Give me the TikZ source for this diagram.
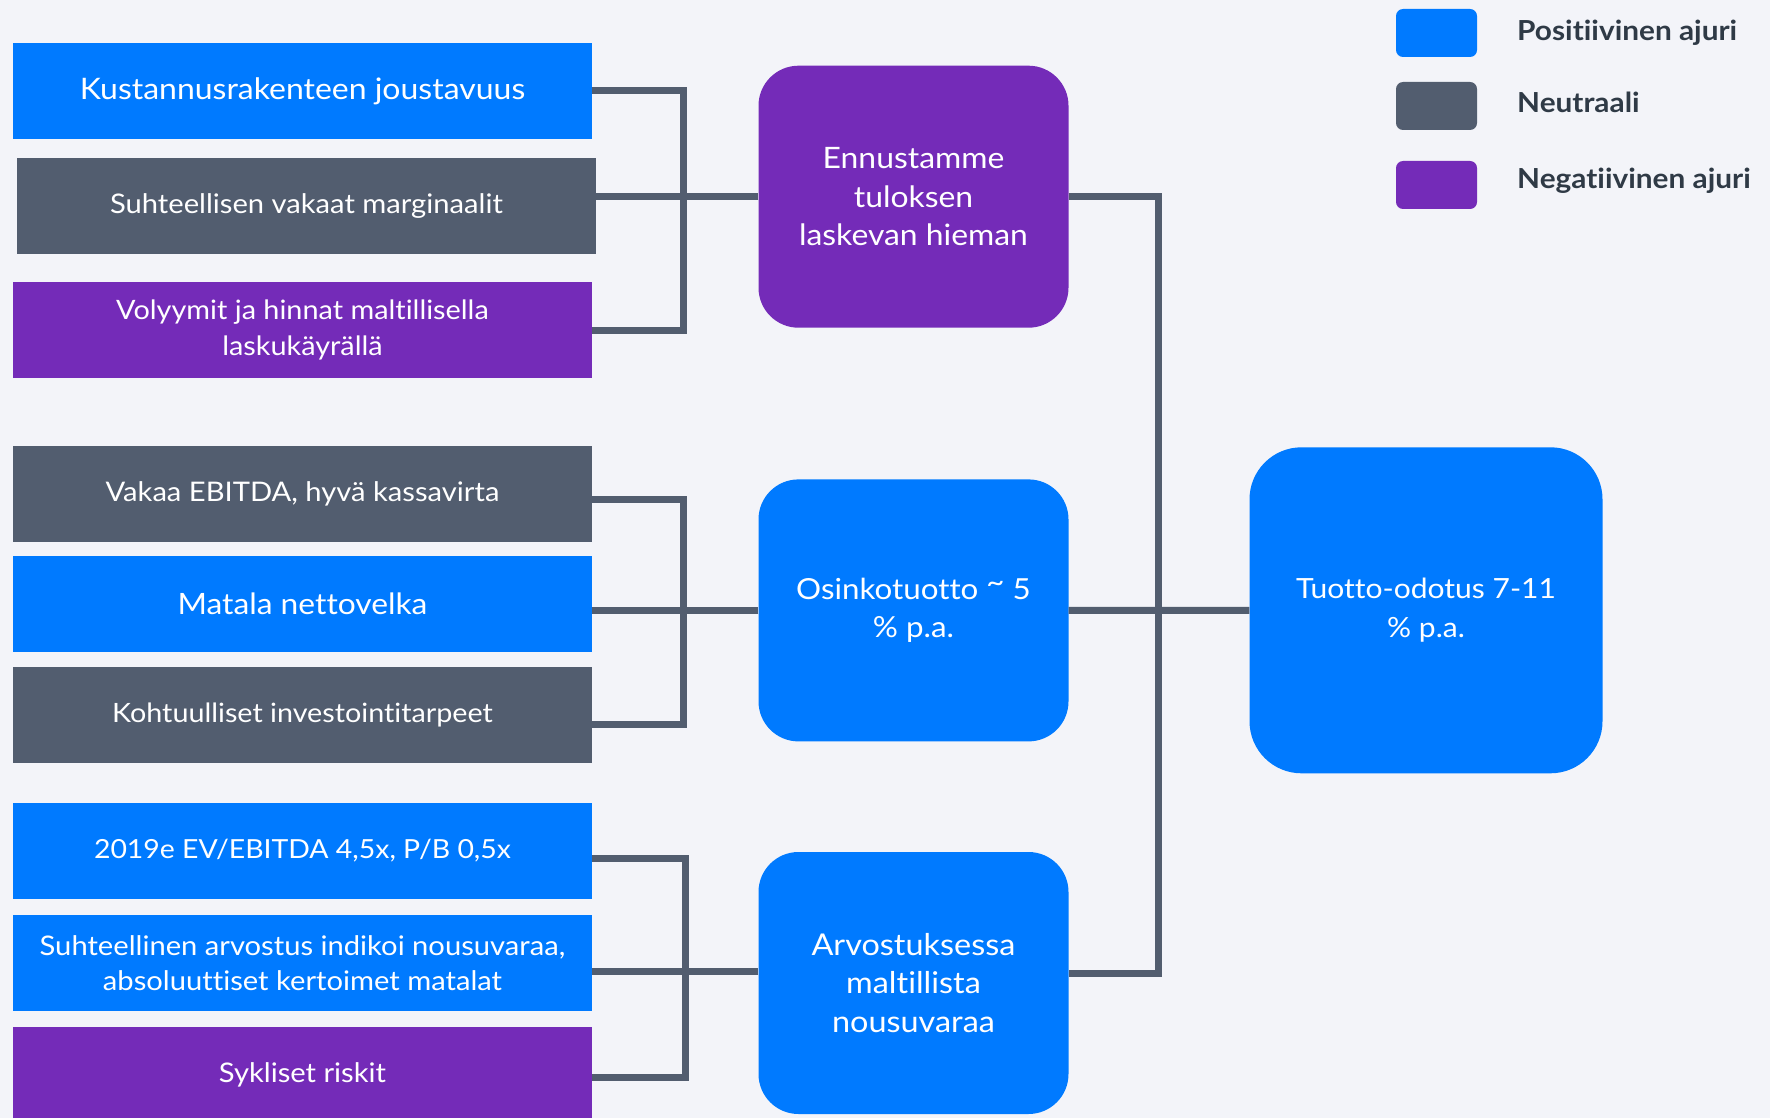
\documentclass[tikz,border=0pt]{standalone}
\usepackage{fontspec}
\setmainfont{Lato}[FakeStretch=1.08, Ligatures=NoCommon, RawFeature={-liga;-clig;-dlig;-rlig}]
\usetikzlibrary{calc}
\definecolor{bg}{HTML}{F3F4F9}
\definecolor{pos}{HTML}{007AFF}
\definecolor{neu}{HTML}{525D6F}
\definecolor{neg}{HTML}{742BB8}
\definecolor{legtext}{HTML}{2F3A46}
\begin{document}
\begin{tikzpicture}[x=1pt,y=-1pt,
  leftbox/.style={rectangle, minimum width=579pt, minimum height=96pt, inner sep=0pt, text=white, align=center, font=\fontsize{27}{35.5}\selectfont},
  midbox/.style={rectangle, rounded corners=40pt, minimum width=310pt, minimum height=262pt, inner sep=0pt, text=white, align=center, font=\fontsize{29.5}{38.5}\selectfont},
  conn/.style={draw=neu, line width=7pt},
  legbox/.style={rectangle, rounded corners=7pt, minimum width=81pt, minimum height=48pt, inner sep=0pt},
  legtxt/.style={anchor=base west, inner sep=0pt, text=legtext, font=\bfseries\fontsize{27.6}{34}\selectfont}]
\fill[bg] (0,0) rectangle (1770,1118);
\path[use as bounding box, clip] (0,0) rectangle (1770,1118);

% left boxes
\node[leftbox, fill=pos, font=\fontsize{29.6}{36}\selectfont] (k1) at (302.5,91) {Kustannusrakenteen joustavuus};
\node[leftbox, fill=neu] (k2) at (306.5,206) {Suhteellisen vakaat marginaalit};
\node[leftbox, fill=neg, font=\fontsize{26.7}{35.5}\selectfont] (k3) at (302.5,330) {Volyymit ja hinnat maltillisella\\laskukäyrällä};

\node[leftbox, fill=neu] (v1) at (302.5,494) {Vakaa EBITDA, hyvä kassavirta};
\node[leftbox, fill=pos, font=\fontsize{29.4}{36}\selectfont] (v2) at (302.5,604) {Matala nettovelka};
\node[leftbox, fill=neu, font=\fontsize{26.6}{35}\selectfont] (v3) at (302.5,715) {Kohtuulliset investointitarpeet};

\node[leftbox, fill=pos, font=\fontsize{26.3}{35}\selectfont] (r1) at (302.5,851) {2019e EV/EBITDA 4,5x, P/B 0,5x};
\node[leftbox, fill=pos] (r2) at (302.5,963) {Suhteellinen arvostus indikoi nousuvaraa,\\absoluuttiset kertoimet matalat};
\node[leftbox, fill=neg] (r3) at (302.5,1075) {Sykliset riskit};

% middle boxes
\node[midbox, fill=neg] (e) at (913.5,196.7) {Ennustamme\\tuloksen\\laskevan hieman};
\node[midbox, fill=pos, font=\fontsize{29}{38.5}\selectfont] (o) at (913.5,610.4) {Osinkotuotto \raisebox{0.25em}{\textasciitilde} 5\\\% p.a.};
\node[midbox, fill=pos, font=\fontsize{30}{38.5}\selectfont] (a) at (913.5,983) {Arvostuksessa\\maltillista\\nousuvaraa};

% result box
\node[rectangle, rounded corners=52pt, minimum width=353pt, minimum height=326pt, inner sep=0pt, fill=pos, text=white, align=center, font=\fontsize{27.8}{38.5}\selectfont] (t) at (1426,610.3) {Tuotto-odotus 7-11\\\% p.a.};

% connector helpers
\coordinate (b1) at (683,0);
\coordinate (b2) at (683,0);
\coordinate (b3) at (685,0);
\coordinate (b4) at (1158,0);
\coordinate (v1o) at ($(v1.east)+(0,5)$);
\coordinate (v3o) at ($(v3.east)+(0,9)$);
\coordinate (r1o) at ($(r1.east)+(0,7)$);
\coordinate (r3o) at ($(r3.east)+(0,2)$);
\coordinate (ao) at ($(a.west)+(0,-12)$);
\coordinate (aeo) at ($(a.east)+(0,-10)$);

% connectors
\draw[conn] (k1.east) -| (b1 |- k3.east) -- (k3.east);
\draw[conn] (e.west) -- (e.west -| k2.east);

\draw[conn] (v1o) -| (b2 |- v3o) -- (v3o);
\draw[conn] (o.west) -- (o.west -| v2.east);

\draw[conn] (r1o) -| (b3 |- r3o) -- (r3o);
\draw[conn] (ao) -- (ao -| r2.east);

\draw[conn] (e.east) -| (b4 |- aeo) -- (aeo);
\draw[conn] (o.east) -- (t.west);

% legend
\node[legbox, fill=pos] (l1) at (1436.5,33) {};
\node[legbox, fill=neu] (l2) at (1436.5,106) {};
\node[legbox, fill=neg] (l3) at (1436.5,185) {};
\node[legtxt] (lt1) at (1517,40.7) {Positiivinen ajuri};
\node[legtxt] (lt2) at (1517,112.3) {Neutraali};
\node[legtxt] (lt3) at (1517,188.3) {Negatiivinen ajuri};
\end{tikzpicture}
\end{document}
